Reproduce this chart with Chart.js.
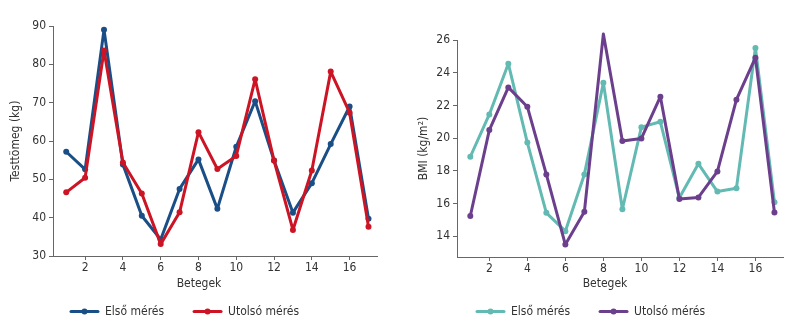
<!DOCTYPE html>
<html>
<head>
<meta charset="utf-8">
<script src="https://cdn.jsdelivr.net/npm/chart.js@4.4.1/dist/chart.umd.min.js"></script>
<style>
html, body { margin: 0; padding: 0; background: #fff; }
#wrap { position: relative; width: 800px; height: 324px; }
#wrap canvas { position: absolute; top: 0; }
</style>
</head>
<body>
<div id="wrap">
    <canvas id="weightChart" width="400" height="324" style="left:0"></canvas>
    <canvas id="bmiChart" width="400" height="324" style="left:400px"></canvas>
</div>
<script>
// betegek sorszáma
const patients = [1, 2, 3, 4, 5, 6, 7, 8, 9, 10, 11, 12, 13, 14, 15, 16, 17];

// testtömeg (kg)
const weightFirst = [57.2, 52.6, 89.0, 53.9, 40.5, 34.3, 47.5, 55.2, 42.3, 58.5, 70.4, 54.9, 41.3, 49.0, 59.2, 69.0, 39.7];
const weightLast = [46.6, 50.4, 83.6, 54.4, 46.3, 33.1, 41.4, 62.3, 52.7, 56.1, 76.1, 54.9, 36.8, 52.3, 78.1, 67.4, 37.6];

// BMI (kg/m2)
const bmiFirst = [18.86, 21.45, 24.55, 19.73, 15.43, 14.31, 17.78, 23.39, 15.65, 20.67, 21.0, 16.35, 18.43, 16.73, 16.94, 25.51, 16.08];
const bmiLast = [15.24, 20.49, 23.1, 21.92, 17.78, 13.49, 15.49, 26.37, 19.82, 19.98, 22.53, 16.27, 16.37, 17.96, 22.35, 24.92, 15.45];

const seriesLabels = ['Első mérés', 'Utolsó mérés'];

const FONT = '"Liberation Sans Narrow", "DejaVu Sans Condensed", sans-serif';
const TEXT = '#333333';
const AXIS = '#666666';

Chart.defaults.font.family = FONT;
Chart.defaults.font.size = 12;
Chart.defaults.color = TEXT;

function points(values) {
    return values.map(function(v, i) {
        return { x: patients[i], y: v };
    });
}

// x tengely felirata + jelmagyarázat a vászon aljára
const footer = {
    id: 'footer',
    afterDraw: function(chart, args, opts) {
        var ctx = chart.ctx;
        ctx.save();
        ctx.font = '12px ' + FONT;
        ctx.textBaseline = 'middle';
        ctx.fillStyle = TEXT;
        ctx.textAlign = 'center';
        ctx.fillText(opts.title, opts.titleX, opts.titleY);

        ctx.textAlign = 'left';
        var x = opts.legendX;
        var y = opts.legendY;
        chart.data.datasets.forEach(function(ds) {
            ctx.strokeStyle = ds.borderColor;
            ctx.lineWidth = 3;
            ctx.lineCap = 'round';
            ctx.beginPath();
            ctx.moveTo(x, y);
            ctx.lineTo(x + 27, y);
            ctx.stroke();
            ctx.fillStyle = ds.borderColor;
            ctx.beginPath();
            ctx.arc(x + 13.5, y, 3, 0, Math.PI * 2);
            ctx.fill();
            ctx.fillStyle = TEXT;
            ctx.fillText(ds.label, x + 34, y);
            x += 34 + ctx.measureText(ds.label).width + 30;
        });
        ctx.restore();
    }
};

function makeChart(id, first, last, colors, y) {
    var canvas = document.getElementById(id);
    return new Chart(canvas, {
        type: 'line',
        data: {
            datasets: [{
                label: seriesLabels[0],
                data: points(first),
                borderColor: colors[0],
                backgroundColor: colors[0],
                order: 2
            }, {
                label: seriesLabels[1],
                data: points(last),
                borderColor: colors[1],
                backgroundColor: colors[1],
                order: 1
            }]
        },
        options: {
            responsive: false,
            animation: false,
            layout: {
                padding: { left: 0, right: y.padRight, top: y.padTop, bottom: 0 }
            },
            elements: {
                line: { borderWidth: 3, tension: 0, borderJoinStyle: 'round', borderCapStyle: 'round' },
                point: { radius: 3, borderWidth: 0, hoverRadius: 3 }
            },
            datasets: { line: { clip: false } },
            plugins: {
                legend: { display: false },
                tooltip: { enabled: false },
                footer: {
                    title: 'Betegek',
                    titleX: y.titleX,
                    titleY: 284,
                    legendX: y.legendX,
                    legendY: 311.5
                }
            },
            scales: {
                x: {
                    type: 'linear',
                    min: 0.3,
                    max: 17.45,
                    afterFit: function(scale) { scale.height = y.xHeight; },
                    border: { display: true, color: AXIS, width: 1 },
                    grid: { drawOnChartArea: false, drawTicks: true, tickLength: 4, color: AXIS },
                    ticks: {
                        stepSize: 2,
                        includeBounds: false,
                        padding: 1,
                        color: TEXT,
                        maxRotation: 0,
                        callback: function(value) { return value; }
                    }
                },
                y: {
                    min: y.min,
                    max: y.max,
                    afterFit: function(scale) { scale.width = y.yWidth; },
                    border: { display: true, color: AXIS, width: 1 },
                    grid: { drawOnChartArea: false, drawTicks: true, tickLength: 4, color: AXIS },
                    ticks: {
                        stepSize: y.step,
                        includeBounds: false,
                        padding: 3,
                        color: TEXT
                    },
                    title: {
                        display: true,
                        text: y.title,
                        color: TEXT,
                        font: { size: 12 },
                        padding: { top: y.titlePad, bottom: 0 }
                    }
                }
            }
        },
        plugins: [footer]
    });
}

makeChart('weightChart', weightFirst, weightLast, ['#1a4e86', '#cc1424'], {
    min: 30, max: 90, step: 10,
    title: 'Testtömeg (kg)',
    padTop: 26, padRight: 23, yWidth: 53, xHeight: 68, titlePad: 9,
    titleX: 199, legendX: 71
});

makeChart('bmiChart', bmiFirst, bmiLast, ['#63bab3', '#6c3f8d'], {
    min: 12.73, max: 26, step: 2,
    title: 'BMI (kg/m²)',
    padTop: 40, padRight: 17, yWidth: 57, xHeight: 67, titlePad: 17,
    titleX: 205, legendX: 77
});
</script>
</body>
</html>
